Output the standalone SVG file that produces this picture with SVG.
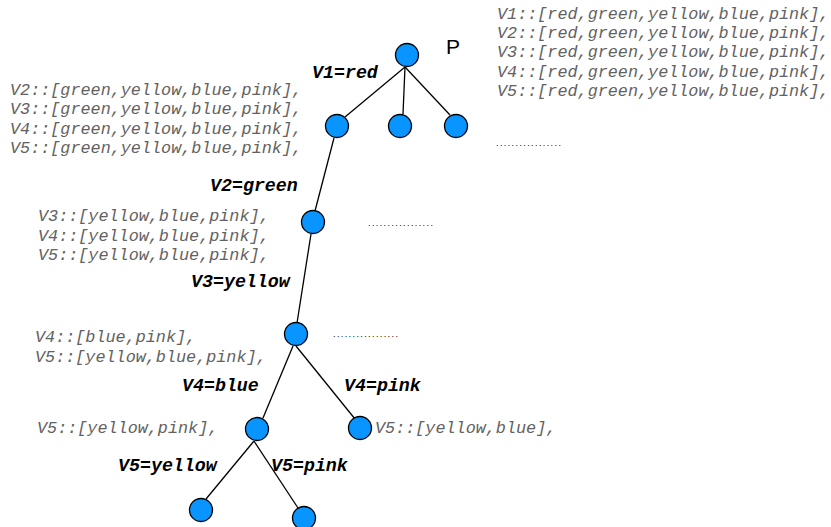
<svg xmlns="http://www.w3.org/2000/svg" width="831" height="527" viewBox="0 0 831 527">
  <style>
    .node { fill: #0895ff; stroke: #000; stroke-width: 1.3; }
    .edge { stroke: #000; stroke-width: 1.3; fill: none; }
    .dom { font-family: "Liberation Mono", "Courier New", monospace; font-style: italic; font-size: 16.8px; fill: #626262; }
    .lbl { font-family: "Liberation Mono", "Courier New", monospace; font-style: italic; font-weight: bold; font-size: 18.3px; fill: #000; }
    .dots { font-family: "Liberation Sans", Arial, sans-serif; font-size: 9px; fill: #000; letter-spacing: 1.4px; }
    .name { font-family: "Liberation Sans", Arial, sans-serif; font-size: 21px; fill: #000; }
  </style>
  <rect width="831" height="527" fill="#fff"/>

  <g id="connectors">
    <line class="edge" x1="405" y1="67" x2="345" y2="117"/>
    <line class="edge" x1="405" y1="67" x2="403" y2="114"/>
    <line class="edge" x1="405" y1="67" x2="450" y2="115"/>
    <line class="edge" x1="334" y1="138" x2="315" y2="211"/>
    <line class="edge" x1="311" y1="234" x2="297" y2="323"/>
    <line class="edge" x1="293" y1="346" x2="263" y2="418"/>
    <line class="edge" x1="296" y1="346" x2="355" y2="419"/>
    <line class="edge" x1="254" y1="441" x2="206" y2="499"/>
    <line class="edge" x1="254" y1="441" x2="298" y2="508"/>
  </g>

  <g id="root">
    <circle class="node" cx="407" cy="55" r="11.5"/>
    <text class="name" x="446" y="54">P</text>
    <text class="dom" x="497" y="19">V1::[red,green,yellow,blue,pink],</text>
    <text class="dom" x="497" y="38">V2::[red,green,yellow,blue,pink],</text>
    <text class="dom" x="497" y="57">V3::[red,green,yellow,blue,pink],</text>
    <text class="dom" x="497" y="77">V4::[red,green,yellow,blue,pink],</text>
    <text class="dom" x="497" y="96">V5::[red,green,yellow,blue,pink],</text>
    <text class="dots" x="496" y="146">.................</text>
  </g>

  <g id="n1a">
    <circle class="node" cx="337" cy="126" r="11.5"/>
    <text class="lbl" x="312" y="78">V1=red</text>
    <text class="dom" x="10" y="95">V2::[green,yellow,blue,pink],</text>
    <text class="dom" x="10" y="114">V3::[green,yellow,blue,pink],</text>
    <text class="dom" x="10" y="134">V4::[green,yellow,blue,pink],</text>
    <text class="dom" x="10" y="153">V5::[green,yellow,blue,pink],</text>
  </g>
  <g id="n1b"><circle class="node" cx="400" cy="126" r="11.5"/></g>
  <g id="n1c"><circle class="node" cx="456" cy="126" r="11.5"/></g>

  <g id="n2">
    <circle class="node" cx="313" cy="222" r="11.5"/>
    <text class="lbl" x="210" y="191">V2=green</text>
    <text class="dom" x="38" y="221">V3::[yellow,blue,pink],</text>
    <text class="dom" x="38" y="241">V4::[yellow,blue,pink],</text>
    <text class="dom" x="38" y="260">V5::[yellow,blue,pink],</text>
    <text class="dots" x="368" y="226">.................</text>
  </g>

  <g id="n3">
    <circle class="node" cx="296" cy="334" r="11.5"/>
    <text class="lbl" x="191" y="287">V3=yellow</text>
    <text class="dom" x="35" y="342">V4::[blue,pink],</text>
    <text class="dom" x="35" y="362">V5::[yellow,blue,pink],</text>
    <text class="dots" x="333" y="337">.................</text>
  </g>

  <g id="n4a">
    <circle class="node" cx="257" cy="429" r="11.5"/>
    <text class="lbl" x="182" y="391">V4=blue</text>
    <text class="dom" x="37" y="433">V5::[yellow,pink],</text>
  </g>

  <g id="n4b">
    <circle class="node" cx="360" cy="428" r="11.5"/>
    <text class="lbl" x="344" y="391">V4=pink</text>
    <text class="dom" x="375" y="433">V5::[yellow,blue],</text>
  </g>

  <g id="n5a">
    <circle class="node" cx="201" cy="510" r="11.5"/>
    <text class="lbl" x="118" y="471">V5=yellow</text>
  </g>
  <g id="n5b">
    <circle class="node" cx="304" cy="518" r="11.5"/>
    <text class="lbl" x="271" y="471">V5=pink</text>
  </g>
</svg>
